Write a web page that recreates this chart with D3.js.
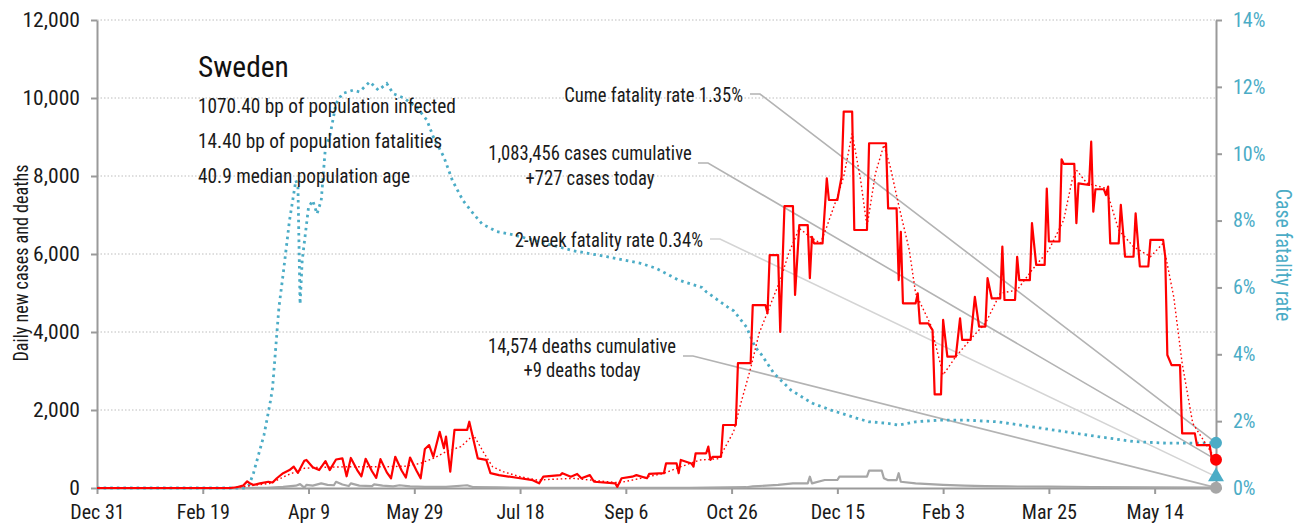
<!DOCTYPE html>
<html>
<head>
<meta charset="utf-8">
<script src="https://cdn.jsdelivr.net/npm/d3@7"></script>
<style>
  body { margin: 0; background: #fff; }
  svg text { font-family: "Liberation Sans Narrow", "Arial Narrow", "Roboto Condensed", "DejaVu Sans Condensed", sans-serif; }
</style>
</head>
<body>
<svg id="chart" width="1314" height="529"></svg>
<script>
// ---- data ----------------------------------------------------------------
const country = "Sweden";
const infoLines = [
  "1070.40 bp of population infected",
  "14.40 bp of population fatalities",
  "40.9 median population age"
];

const xTickDates = ["2019-12-31","2020-02-19","2020-04-09","2020-05-29","2020-07-18",
  "2020-09-06","2020-10-26","2020-12-15","2021-02-03","2021-03-25","2021-05-14"];
const leftTicks = [0, 2000, 4000, 6000, 8000, 10000, 12000];
const rightTicks = [0, 2, 4, 6, 8, 10, 12, 14];

// daily new cases
const casesDaily = [
  ["2019-12-31",0],["2020-03-03",0],["2020-03-06",20],["2020-03-09",60],["2020-03-11",170],
  ["2020-03-12",130],["2020-03-14",80],["2020-03-17",120],["2020-03-21",160],["2020-03-23",140],
  ["2020-03-25",250],["2020-03-28",380],["2020-03-31",460],["2020-04-02",550],["2020-04-04",390],
  ["2020-04-07",700],["2020-04-08",720],["2020-04-11",530],["2020-04-14",460],["2020-04-17",690],
  ["2020-04-19",460],["2020-04-22",730],["2020-04-25",760],["2020-04-27",300],["2020-04-29",770],
  ["2020-05-02",460],["2020-05-04",300],["2020-05-06",750],["2020-05-09",430],["2020-05-11",260],
  ["2020-05-13",740],["2020-05-16",400],["2020-05-18",250],["2020-05-20",800],["2020-05-23",450],
  ["2020-05-25",270],["2020-05-27",780],["2020-05-30",450],["2020-06-01",250],["2020-06-03",1000],
  ["2020-06-05",1100],["2020-06-07",800],["2020-06-10",1440],["2020-06-12",1020],["2020-06-13",1320],
  ["2020-06-15",420],["2020-06-17",1490],["2020-06-23",1490],["2020-06-24",1700],["2020-06-26",1230],
  ["2020-06-28",760],["2020-07-02",720],["2020-07-04",380],["2020-07-08",330],["2020-07-18",250],
  ["2020-07-24",200],["2020-07-27",120],["2020-07-29",290],["2020-08-06",330],["2020-08-07",380],
  ["2020-08-11",290],["2020-08-14",360],["2020-08-16",250],["2020-08-20",330],["2020-08-22",160],
  ["2020-09-01",120],["2020-09-02",30],["2020-09-04",250],["2020-09-09",290],["2020-09-11",330],
  ["2020-09-16",250],["2020-09-17",360],["2020-09-24",380],["2020-09-25",630],["2020-09-30",630],
  ["2020-10-01",380],["2020-10-02",720],["2020-10-07",630],["2020-10-08",550],["2020-10-09",890],
  ["2020-10-14",890],["2020-10-15",1060],["2020-10-16",720],["2020-10-17",800],["2020-10-21",800],
  ["2020-10-22",1615],["2020-10-28",1615],["2020-10-29",3200],["2020-11-04",3200],["2020-11-05",4690],
  ["2020-11-11",4690],["2020-11-12",4480],["2020-11-13",5970],["2020-11-17",5970],["2020-11-18",4000],
  ["2020-11-20",7230],["2020-11-24",7230],["2020-11-25",4950],["2020-11-27",6740],["2020-12-01",6740],
  ["2020-12-02",5380],["2020-12-03",6440],["2020-12-04",6270],["2020-12-08",6270],["2020-12-10",7940],
  ["2020-12-11",7385],["2020-12-15",7385],["2020-12-17",7980],["2020-12-18",9650],["2020-12-22",9650],
  ["2020-12-23",6615],["2020-12-29",6615],["2020-12-30",8840],["2021-01-07",8840],["2021-01-08",7170],
  ["2021-01-12",7170],["2021-01-13",5330],["2021-01-14",6570],["2021-01-15",4735],["2021-01-21",4735],
  ["2021-01-22",4990],["2021-01-23",4220],["2021-01-27",4220],["2021-01-29",4050],["2021-01-30",2400],
  ["2021-02-02",2400],["2021-02-03",4310],["2021-02-05",3370],["2021-02-09",3370],["2021-02-11",4350],
  ["2021-02-12",3800],["2021-02-16",3800],["2021-02-18",4900],["2021-02-20",4140],["2021-02-23",4140],
  ["2021-02-24",5380],["2021-02-26",4860],["2021-03-02",4860],["2021-03-03",6190],["2021-03-04",4820],
  ["2021-03-09",4820],["2021-03-10",5930],["2021-03-11",5330],["2021-03-16",5330],["2021-03-17",6790],
  ["2021-03-19",5720],["2021-03-23",5720],["2021-03-24",7680],["2021-03-25",6320],["2021-03-30",6320],
  ["2021-03-31",8430],["2021-04-01",8310],["2021-04-06",8310],["2021-04-07",6790],["2021-04-08",7810],
  ["2021-04-13",7770],["2021-04-14",8880],["2021-04-15",7085],["2021-04-16",7660],["2021-04-20",7660],
  ["2021-04-21",7510],["2021-04-22",7730],["2021-04-23",6270],["2021-04-27",6270],["2021-04-28",7260],
  ["2021-04-29",6615],["2021-04-30",5930],["2021-05-04",5930],["2021-05-05",7040],["2021-05-07",5680],
  ["2021-05-11",5680],["2021-05-12",6360],["2021-05-18",6360],["2021-05-19",5930],["2021-05-20",3410],
  ["2021-05-22",3150],["2021-05-26",3150],["2021-05-27",1400],["2021-06-02",1400],["2021-06-03",1100],
  ["2021-06-09",1100],["2021-06-10",760],["2021-06-12",727]
];

// 7-day average of new cases
const casesAvg = [
  ["2019-12-31",0],["2020-03-01",0],["2020-03-08",30],["2020-03-22",120],["2020-03-30",330],
  ["2020-04-07",505],["2020-04-14",530],["2020-04-30",546],["2020-05-16",546],["2020-05-25",560],
  ["2020-06-01",633],["2020-06-07",761],["2020-06-13",931],["2020-06-20",1060],["2020-06-26",1360],
  ["2020-07-01",890],["2020-07-05",546],["2020-07-10",418],["2020-07-18",290],["2020-07-26",205],
  ["2020-08-12",248],["2020-08-28",162],["2020-09-03",136],["2020-09-13",248],["2020-09-24",377],
  ["2020-10-02",546],["2020-10-11",718],["2020-10-20",750],["2020-10-25",1250],["2020-10-27",1450],
  ["2020-10-30",2100],["2020-11-04",3070],["2020-11-08",3966],["2020-11-13",4649],["2020-11-18",5333],
  ["2020-11-22",6017],["2020-11-27",6658],["2020-12-02",6444],["2020-12-07",6274],["2020-12-10",6700],
  ["2020-12-15",7470],["2020-12-18",7983],["2020-12-22",9094],["2020-12-26",7897],["2020-12-29",6700],
  ["2021-01-02",8068],["2021-01-06",8795],["2021-01-09",8238],["2021-01-13",7250],["2021-01-18",6103],
  ["2021-01-21",4992],["2021-01-28",4200],["2021-02-03",2900],["2021-02-09",3368],["2021-02-17",3880],
  ["2021-02-23",4222],["2021-03-02",4992],["2021-03-10",5077],["2021-03-17",5590],["2021-03-25",6103],
  ["2021-04-01",6872],["2021-04-05",7897],["2021-04-07",8154],["2021-04-12",7813],["2021-04-21",7684],
  ["2021-04-27",6615],["2021-05-04",6188],["2021-05-12",5931],["2021-05-18",6274],["2021-05-23",4906],
  ["2021-05-27",3197],["2021-06-01",1659],["2021-06-06",1231],["2021-06-10",890],["2021-06-12",800]
];

// daily deaths
const deathsDaily = [
  ["2019-12-31",0],["2020-03-10",0],["2020-03-20",5],["2020-03-28",30],["2020-04-03",60],
  ["2020-04-05",100],["2020-04-07",10],["2020-04-08",80],["2020-04-11",60],["2020-04-15",120],
  ["2020-04-18",80],["2020-04-21",70],["2020-04-22",160],["2020-04-25",90],["2020-04-28",50],
  ["2020-04-29",120],["2020-05-03",60],["2020-05-09",50],["2020-05-10",95],["2020-05-14",60],
  ["2020-05-19",40],["2020-05-22",70],["2020-05-27",40],["2020-06-03",30],["2020-06-13",30],
  ["2020-06-23",70],["2020-06-26",20],["2020-07-08",15],["2020-07-28",5],["2020-08-27",3],
  ["2020-10-06",5],["2020-11-02",20],["2020-11-05",40],["2020-11-17",80],["2020-11-24",120],
  ["2020-12-01",120],["2020-12-02",290],["2020-12-03",120],["2020-12-09",205],["2020-12-15",205],
  ["2020-12-16",290],["2020-12-29",290],["2020-12-30",444],["2021-01-05",444],["2021-01-06",250],
  ["2021-01-08",200],["2021-01-12",200],["2021-01-13",380],["2021-01-14",160],["2021-01-21",120],
  ["2021-02-03",80],["2021-02-13",60],["2021-02-23",50],["2021-03-05",40],["2021-03-25",35],
  ["2021-04-14",25],["2021-05-14",15],["2021-06-12",9]
];

// case fatality rate, percent
const fatalityRate = [
  ["2019-12-31",0],["2020-03-10",0],["2020-03-12",0.1],["2020-03-14",0.45],["2020-03-19",1.6],
  ["2020-03-22",2.6],["2020-03-23",3.0],["2020-03-25",4.6],["2020-03-26",5.4],["2020-03-28",6.4],
  ["2020-03-31",8.0],["2020-04-03",9.2],["2020-04-04",9.0],["2020-04-05",5.5],["2020-04-06",6.8],
  ["2020-04-09",8.4],["2020-04-11",8.6],["2020-04-13",8.2],["2020-04-15",8.6],["2020-04-17",10.2],
  ["2020-04-19",10.5],["2020-04-22",11.5],["2020-04-25",11.8],["2020-04-30",11.9],["2020-05-03",11.85],
  ["2020-05-08",12.15],["2020-05-12",11.9],["2020-05-16",12.1],["2020-05-19",11.8],["2020-05-24",11.67],
  ["2020-05-30",11.4],["2020-06-04",11.0],["2020-06-07",10.5],["2020-06-12",9.9],["2020-06-16",9.2],
  ["2020-06-21",8.6],["2020-06-26",8.2],["2020-06-30",7.9],["2020-07-07",7.67],["2020-07-15",7.57],
  ["2020-08-12",7.1],["2020-08-28",6.92],["2020-09-13",6.72],["2020-09-20",6.58],["2020-10-01",6.22],
  ["2020-10-12",6.0],["2020-10-14",5.87],["2020-10-24",5.42],["2020-10-27",5.3],["2020-11-02",4.82],
  ["2020-11-06",4.23],["2020-11-09",4.0],["2020-11-15",3.43],["2020-11-23",2.93],["2020-12-03",2.54],
  ["2020-12-12",2.33],["2020-12-24",2.09],["2020-12-30",1.98],["2021-01-07",1.94],["2021-01-13",1.88],
  ["2021-01-21",1.98],["2021-02-01",2.03],["2021-02-14",2.03],["2021-03-01",1.98],["2021-03-17",1.83],
  ["2021-04-02",1.68],["2021-04-18",1.53],["2021-05-04",1.39],["2021-05-20",1.34],["2021-06-05",1.34],
  ["2021-06-12",1.35]
];

// latest figures shown in the call-outs
const latest = {
  date: "2021-06-12",
  cumeFatalityRate: 1.35,
  twoWeekFatalityRate: 0.34,
  casesToday: 727,
  deathsToday: 9,
  casesCumulative: 1083456,
  deathsCumulative: 14574
};

// ---- chart ---------------------------------------------------------------
const svg = d3.select("#chart");
const parse = d3.utcParse("%Y-%m-%d");
const margin = { left: 97, right: 98, top: 20, bottom: 41 };
const W = 1314, H = 529;

const x = d3.scaleUtc()
  .domain([parse("2019-12-31"), parse(latest.date)])
  .range([margin.left, W - margin.right]);
const yL = d3.scaleLinear().domain([0, 12000]).range([H - margin.bottom, margin.top]);
const yR = d3.scaleLinear().domain([0, 14]).range([H - margin.bottom, margin.top]);

const teal = "#4bacc6", red = "#ff0000", grey = "#a6a6a6";
const fmt = d3.format(",");

// narrow the glyphs of a text selection by factor k (condensed lettering)
function squeeze(sel, k) {
  sel.each(function () {
    const n = this.getComputedTextLength();
    d3.select(this).attr("textLength", n * k).attr("lengthAdjust", "spacingAndGlyphs");
  });
}

// dotted gridlines
svg.append("g")
  .selectAll("line")
  .data(leftTicks.filter(d => d > 0))
  .join("line")
  .attr("x1", x.range()[0]).attr("x2", x.range()[1])
  .attr("y1", d => yL(d)).attr("y2", d => yL(d))
  .attr("stroke", "#bdbdbd").attr("stroke-width", 1)
  .attr("stroke-dasharray", "1.5,2");

// axes
function styleAxis(g, color) {
  g.selectAll(".domain").attr("stroke", "#9a9a9a").attr("stroke-width", 2);
  g.selectAll(".tick line").attr("stroke", "#9a9a9a").attr("stroke-width", 2);
  g.selectAll(".tick text").attr("fill", color).style("font-size", "20px");
}

svg.append("g")
  .attr("transform", `translate(${margin.left},0)`)
  .call(d3.axisLeft(yL).tickValues(leftTicks).tickFormat(fmt).tickSize(6).tickPadding(11).tickSizeOuter(0))
  .call(g => styleAxis(g, "#1a1a1a"))
  .call(g => squeeze(g.selectAll(".tick text"), 1.08));

svg.append("g")
  .attr("transform", `translate(${W - margin.right},0)`)
  .call(d3.axisRight(yR).tickValues(rightTicks).tickFormat(d => d + "%").tickSize(6).tickPadding(11).tickSizeOuter(0))
  .call(g => styleAxis(g, teal));

svg.append("g")
  .attr("transform", `translate(0,${H - margin.bottom})`)
  .call(d3.axisBottom(x).tickValues(xTickDates.map(parse)).tickFormat(d3.utcFormat("%b %-d")).tickSize(6).tickPadding(11).tickSizeOuter(0))
  .call(g => styleAxis(g, "#1a1a1a"));

// axis titles
svg.append("text")
  .attr("transform", `translate(28,${(yL.range()[0] + yL.range()[1]) / 2 + 9}) rotate(-90)`)
  .attr("text-anchor", "middle").style("font-size", "21px").attr("fill", "#1a1a1a")
  .text("Daily new cases and deaths")
  .call(s => squeeze(s, 0.86));
svg.append("text")
  .attr("transform", `translate(1276,${(yR.range()[0] + yR.range()[1]) / 2 + 1}) rotate(90)`)
  .attr("text-anchor", "middle").style("font-size", "21.5px").attr("fill", teal)
  .text("Case fatality rate")
  .call(s => squeeze(s, 0.92));

// call-out connectors, drawn from the label to the latest value of each measure
const xEnd = x(parse(latest.date));
const callouts = [
  { x0: 750, y0: 94, yEnd: yR(latest.cumeFatalityRate), color: "#b3b3b3" },
  { x0: 698, y0: 163, yEnd: yL(latest.casesToday), color: "#b3b3b3" },
  { x0: 710, y0: 239, yEnd: yR(latest.twoWeekFatalityRate), color: "#d4d4d4" },
  { x0: 683, y0: 356, yEnd: yL(latest.deathsToday), color: "#b3b3b3" }
];
svg.append("g").selectAll("path").data(callouts).join("path")
  .attr("d", d => `M${d.x0},${d.y0}H${d.x0 + 10}L${xEnd},${d.yEnd}`)
  .attr("fill", "none").attr("stroke", d => d.color).attr("stroke-width", 1.6);

// series
const line = (ys) => d3.line().x(d => x(parse(d[0]))).y(d => ys(d[1]));

svg.append("path").datum(deathsDaily)
  .attr("d", line(yL)).attr("fill", "none").attr("stroke", grey).attr("stroke-width", 2.2)
  .attr("stroke-linejoin", "round");

svg.append("path").datum(fatalityRate)
  .attr("d", line(yR)).attr("fill", "none").attr("stroke", teal).attr("stroke-width", 2.8)
  .attr("stroke-dasharray", "2.6,4");

svg.append("path").datum(casesAvg)
  .attr("d", line(yL)).attr("fill", "none").attr("stroke", red).attr("stroke-width", 1.4)
  .attr("stroke-dasharray", "1.6,2.6");

svg.append("path").datum(casesDaily)
  .attr("d", line(yL)).attr("fill", "none").attr("stroke", red).attr("stroke-width", 2.2)
  .attr("stroke-linejoin", "round");

// end markers
svg.append("circle").attr("cx", xEnd).attr("cy", yR(latest.cumeFatalityRate)).attr("r", 6).attr("fill", teal);
svg.append("circle").attr("cx", xEnd).attr("cy", yL(latest.casesToday)).attr("r", 6).attr("fill", red);
svg.append("path")
  .attr("transform", `translate(${xEnd},${yR(latest.twoWeekFatalityRate)})`)
  .attr("d", d3.symbol(d3.symbolTriangle, 110)()).attr("fill", teal);
svg.append("circle").attr("cx", xEnd).attr("cy", yL(latest.deathsToday)).attr("r", 6).attr("fill", grey);

// call-out labels
const callText = svg.append("g").attr("fill", "#1a1a1a").style("font-size", "20px");
callText.append("text").attr("x", 743).attr("y", 101.5).attr("text-anchor", "end")
  .text(`Cume fatality rate ${latest.cumeFatalityRate.toFixed(2)}%`);
callText.append("text").attr("x", 590).attr("y", 160).attr("text-anchor", "middle")
  .text(`${fmt(latest.casesCumulative)} cases cumulative`);
callText.append("text").attr("x", 590).attr("y", 185).attr("text-anchor", "middle")
  .text(`+${fmt(latest.casesToday)} cases today`);
callText.append("text").attr("x", 703).attr("y", 246.5).attr("text-anchor", "end")
  .text(`2-week fatality rate ${latest.twoWeekFatalityRate.toFixed(2)}%`);
callText.append("text").attr("x", 582).attr("y", 353).attr("text-anchor", "middle")
  .text(`${fmt(latest.deathsCumulative)} deaths cumulative`);
callText.append("text").attr("x", 582).attr("y", 376.5).attr("text-anchor", "middle")
  .text(`+${fmt(latest.deathsToday)} deaths today`);
squeeze(callText.selectAll("text"), 0.93);

// title block
svg.append("text").attr("x", 198).attr("y", 76.5).style("font-size", "30px").attr("fill", "#111")
  .text(country)
  .call(s => squeeze(s, 0.98));
svg.append("g").style("font-size", "21px").attr("fill", "#1a1a1a")
  .selectAll("text").data(infoLines).join("text")
  .attr("x", 198).attr("y", (d, i) => 113 + i * 35)
  .text(d => d)
  .call(s => squeeze(s, 0.92));
</script>
</body>
</html>
